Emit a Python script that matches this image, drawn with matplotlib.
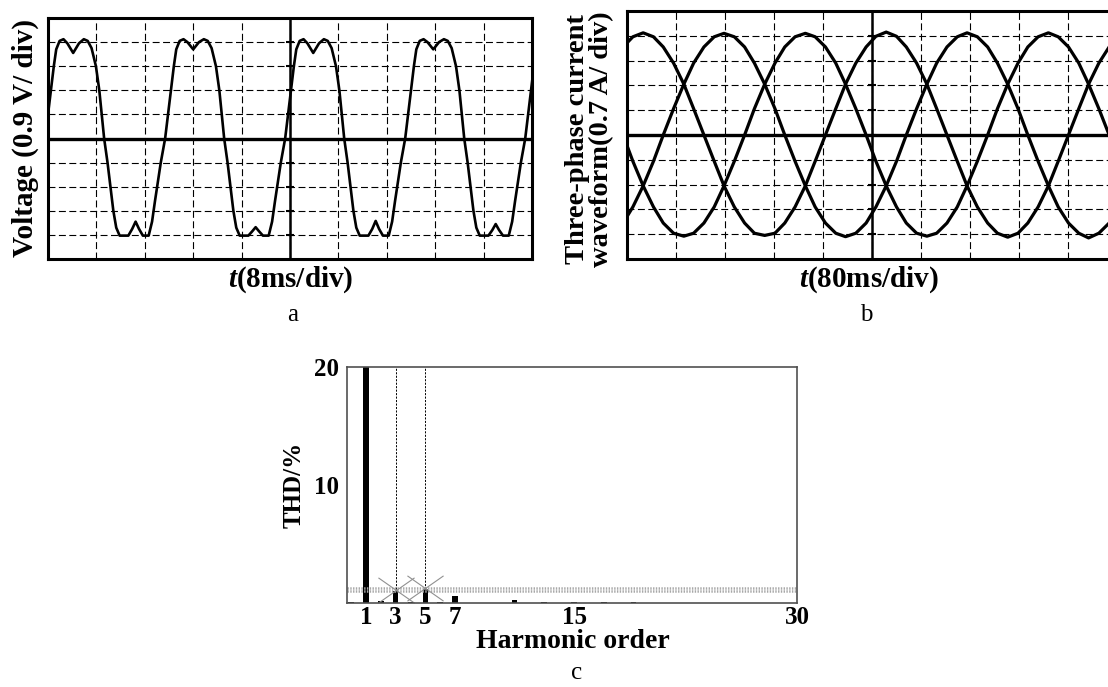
import matplotlib
matplotlib.use('Agg')
import matplotlib.pyplot as plt
from matplotlib.path import Path

plt.rcParams['font.family'] = ['Liberation Serif', 'DejaVu Serif']
plt.rcParams['mathtext.fontset'] = 'custom'
plt.rcParams['mathtext.it'] = 'Liberation Serif:italic:bold'
plt.rcParams['mathtext.rm'] = 'Liberation Serif:bold'
plt.rcParams['lines.scale_dashes'] = False

# panel a: voltage trace, in scope divisions (x: 0..10, y: -5..5)
volt_t = [-0.06, 0.00, 0.06, 0.12, 0.17, 0.24, 0.32, 0.40, 0.52, 0.64, 0.74, 0.82, 0.90, 0.99, 1.06, 1.11,
          1.16, 1.23, 1.29, 1.35, 1.41, 1.48, 1.66, 1.74, 1.81, 1.88, 1.96, 2.08, 2.15, 2.21, 2.27, 2.33,
          2.42, 2.48, 2.54, 2.60, 2.65, 2.72, 2.80, 2.88, 3.00, 3.12, 3.22, 3.30, 3.38, 3.47, 3.54, 3.59,
          3.64, 3.71, 3.77, 3.83, 3.89, 3.96, 4.14, 4.22, 4.29, 4.36, 4.44, 4.56, 4.63, 4.69, 4.75, 4.81,
          4.90, 4.96, 5.02, 5.08, 5.13, 5.20, 5.28, 5.36, 5.48, 5.60, 5.70, 5.78, 5.86, 5.95, 6.02, 6.07,
          6.12, 6.19, 6.25, 6.31, 6.37, 6.44, 6.62, 6.70, 6.77, 6.84, 6.92, 7.04, 7.11, 7.17, 7.23, 7.29,
          7.38, 7.44, 7.50, 7.56, 7.61, 7.68, 7.76, 7.84, 7.96, 8.08, 8.18, 8.26, 8.34, 8.43, 8.50, 8.55,
          8.60, 8.67, 8.73, 8.79, 8.85, 8.92, 9.10, 9.18, 9.25, 9.32, 9.40, 9.52, 9.59, 9.65, 9.71, 9.77,
          9.86, 9.92, 9.98, 10.04]
volt_v = [0, 1.0, 2.0, 3.0, 3.7, 4.05, 4.12, 3.95, 3.55, 3.95, 4.12, 4.05, 3.75, 3.0, 2.0, 1.0,
          0, -1.0, -2.0, -3.0, -3.7, -4.03, -4.03, -3.75, -3.45, -3.75, -4.03, -4.03, -3.45, -2.6, -1.8, -1.0,
          0, 1.0, 2.0, 3.0, 3.7, 4.05, 4.12, 4.0, 3.7, 4.0, 4.12, 4.05, 3.75, 3.0, 2.0, 1.0,
          0, -1.0, -2.0, -3.0, -3.7, -4.03, -4.03, -3.85, -3.68, -3.85, -4.03, -4.03, -3.45, -2.6, -1.8, -1.0,
          0, 1.0, 2.0, 3.0, 3.7, 4.05, 4.12, 3.95, 3.55, 3.95, 4.12, 4.05, 3.75, 3.0, 2.0, 1.0,
          0, -1.0, -2.0, -3.0, -3.7, -4.03, -4.03, -3.75, -3.42, -3.75, -4.03, -4.03, -3.45, -2.6, -1.8, -1.0,
          0, 1.0, 2.0, 3.0, 3.7, 4.05, 4.12, 4.0, 3.7, 4.0, 4.12, 4.05, 3.75, 3.0, 2.0, 1.0,
          0, -1.0, -2.0, -3.0, -3.7, -4.03, -4.03, -3.8, -3.55, -3.8, -4.03, -4.03, -3.45, -2.6, -1.8, -1.0,
          0, 1.0, 2.0, 3.0]

# panel b: three-phase currents, in scope divisions
cur_t = [-0.08, 0.12, 0.33, 0.54, 0.74, 0.95, 1.16, 1.36, 1.57, 1.78, 1.98, 2.19, 2.40, 2.60, 2.81, 3.02,
         3.22, 3.43, 3.64, 3.84, 4.05, 4.26, 4.46, 4.67, 4.88, 5.08, 5.29, 5.50, 5.70, 5.91, 6.12, 6.32,
         6.53, 6.74, 6.94, 7.15, 7.36, 7.56, 7.77, 7.98, 8.18, 8.39, 8.60, 8.80, 9.01, 9.22, 9.42, 9.63,
         9.84, 10.05]
ia_v = [3.55, 3.96, 4.12, 3.96, 3.55, 2.9, 2.05, 1.06, 0, -1.06, -2.05, -2.9, -3.55, -3.96, -4.05, -3.96,
        -3.55, -2.9, -2.05, -1.06, 0, 1.06, 2.05, 2.9, 3.55, 3.98, 4.15, 3.98, 3.55, 2.9, 2.05, 1.06,
        0, -1.06, -2.05, -2.9, -3.55, -3.96, -4.12, -3.96, -3.55, -2.9, -2.05, -1.06, 0, 1.06, 2.05, 2.9,
        3.55, 3.96]
ib_v = [-3.55, -2.9, -2.05, -1.06, 0, 1.06, 2.05, 2.9, 3.55, 3.96, 4.1, 3.96, 3.55, 2.9, 2.05, 1.06,
        0, -1.06, -2.05, -2.9, -3.55, -3.96, -4.1, -3.96, -3.55, -2.9, -2.05, -1.06, 0, 1.06, 2.05, 2.9,
        3.55, 3.96, 4.12, 3.96, 3.55, 2.9, 2.05, 1.06, 0, -1.06, -2.05, -2.9, -3.55, -3.96, -4.15, -3.96,
        -3.55, -2.9]
ic_v = [0, -1.06, -2.05, -2.9, -3.55, -3.96, -4.08, -3.96, -3.55, -2.9, -2.05, -1.06, 0, 1.06, 2.05, 2.9,
        3.55, 3.96, 4.1, 3.96, 3.55, 2.9, 2.05, 1.06, 0, -1.06, -2.05, -2.9, -3.55, -3.96, -4.08, -3.96,
        -3.55, -2.9, -2.05, -1.06, 0, 1.06, 2.05, 2.9, 3.55, 3.96, 4.12, 3.96, 3.55, 2.9, 2.05, 1.06,
        0, -1.06]

# panel c: harmonic spectrum
orders = [0, 1, 2, 3, 4, 5, 6, 7, 9, 11, 13, 15, 17, 19, 23, 25, 29]
thd = [0.12, 20.5, 0.15, 1.0, 0.05, 1.2, 0.05, 0.62, 0.04, 0.28, 0.12, 0.05, 0.07, 0.06, 0.04, 0.04, 0.03]
thd_ticks = [10, 20]
order_ticks = [1, 3, 5, 7, 15, 30]
limit_lines = [1.0, 1.27]
marked_orders = [3, 5]
marked_values = [1.1, 1.3]

W, H = 1108, 687
fig = plt.figure(figsize=(W / 100, H / 100), dpi=100)


def box(l, t, r, b):
    return fig.add_axes([l / W, 1 - b / H, (r - l) / W, (b - t) / H])


def scope(ax):
    ax.set_xlim(0, 10)
    ax.set_ylim(-5, 5)
    ax.set_xticks(range(1, 10))
    ax.set_yticks(range(-4, 5))
    ax.tick_params(length=0, labelbottom=False, labelleft=False)
    ax.grid(True, color='black', lw=0.8, linestyle=(0, (5, 2.5)))
    ax.axhline(0, color='black', lw=2.4)
    ax.axvline(5, color='black', lw=1.8)
    ax.plot([5] * 9, range(-4, 5), ls='none', marker='_', ms=6, mew=1.5, color='black')
    for s in ax.spines.values():
        s.set_linewidth(2.2)


def ftext(x, y, s, **kw):
    return fig.text(x / W, 1 - y / H, s, ha='center', va='center', **kw)


# a
ax1 = box(48, 18, 532, 259)
scope(ax1)
ax1.plot(volt_t, volt_v, color='black', lw=1.9)
ftext(25.5, 138, 'Voltage (0.9 V/ div)', rotation=90, fontsize=21, weight='bold')
ftext(291, 280, r'$\mathit{t}$(8ms/div)', fontsize=21, weight='bold')
ftext(293, 315, 'a', fontsize=18)

# b
ax2 = box(627, 11, 1117, 259)
scope(ax2)
for v in [ia_v, ib_v, ic_v]:
    ax2.plot(cur_t, v, color='black', lw=2.3)
ftext(590, 139, 'Three-phase current\nwaveform(0.7 A/ div)', rotation=90,
      fontsize=20.5, weight='bold', linespacing=0.95)
ftext(869, 280, r'$\mathit{t}$(80ms/div)', fontsize=21, weight='bold')
ftext(866, 315, 'b', fontsize=18)

# c
ax3 = box(347, 367, 797, 603)
ax3.bar(orders, thd, width=0.38, color='black')
for o in marked_orders:
    ax3.axvline(o, color='black', lw=0.7, ls=(0, (1.5, 1)))
for y in limit_lines:
    ax3.axhline(y, color='#a8a8a8', lw=1.8, ls=(0, (1, 1)))
xmark = Path([(-1, -0.7), (1, 0.7), (-1, 0.7), (1, -0.7)],
             [Path.MOVETO, Path.LINETO, Path.MOVETO, Path.LINETO])
ax3.plot(marked_orders, marked_values, ls='none', marker=xmark, ms=26,
         mew=0.8, mec='#909090', mfc='none')
ax3.set_xlim(-0.27, 30)
ax3.set_ylim(0, 20)
ax3.set_xticks(order_ticks)
ax3.set_yticks(thd_ticks)
ax3.tick_params(length=0, labelsize=18)
ax3.tick_params(axis='x', pad=2)
ax3.tick_params(axis='y', pad=6)
for lab in ax3.get_xticklabels() + ax3.get_yticklabels():
    lab.set_fontweight('bold')
for s in ax3.spines.values():
    s.set_color('#505050')
    s.set_linewidth(1.2)
ftext(573, 642, 'Harmonic order', fontsize=20, weight='bold')
ftext(294, 485, 'THD/%', rotation=90, fontsize=18, weight='bold')
ftext(577, 673, 'c', fontsize=18)

fig.savefig('out.png', dpi=100)
